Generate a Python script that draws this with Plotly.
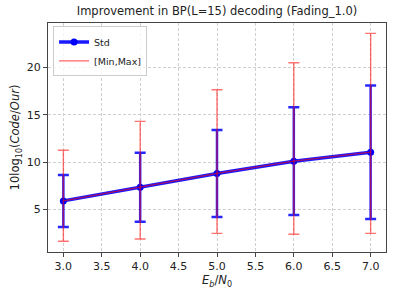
import plotly.graph_objects as go

ebn0 = [3.0, 4.0, 5.0, 6.0, 7.0]
mean_vals = [5.9, 7.35, 8.8, 10.1, 11.05]
std_vals = [2.75, 3.65, 4.6, 5.7, 7.05]
min_vals = [1.63, 1.87, 2.47, 2.37, 2.47]
max_vals = [11.25, 14.3, 17.65, 20.5, 23.6]

err_plus = [mx - m for mx, m in zip(max_vals, mean_vals)]
err_minus = [m - mn for mn, m in zip(min_vals, mean_vals)]

FONT = "DejaVu Sans"
fig = go.Figure()

# Std error bars (blue, thick)
fig.add_trace(go.Scatter(
    x=ebn0, y=mean_vals, mode="lines+markers", name="Std",
    line=dict(color="rgba(0,0,255,0.9)", width=3.5),
    marker=dict(color="blue", size=7),
    error_y=dict(type="data", array=std_vals, color="rgba(0,0,255,0.85)", thickness=2.5, width=5.5),
))
# Min/Max error bars (red, thin) drawn on top
fig.add_trace(go.Scatter(
    x=ebn0, y=mean_vals, mode="lines", name="[Min,Max]",
    line=dict(color="rgba(255,0,0,0.6)", width=1.2),
    error_y=dict(type="data", symmetric=False, array=err_plus, arrayminus=err_minus,
                 color="rgba(255,0,0,0.55)", thickness=1.4, width=5.5),
))

axis_common = dict(
    showline=True, linecolor="#444", linewidth=1, mirror=True,
    ticks="outside", ticklen=4, tickcolor="#444",
    showgrid=True, gridcolor="#cfcfcf", griddash="3px,2px", gridwidth=0.8,
    zeroline=False, automargin=False,
    tickfont=dict(family=FONT, size=11, color="#222"),
)

fig.update_layout(
    width=395, height=296,
    margin=dict(l=48, r=9, t=23, b=44),
    paper_bgcolor="white", plot_bgcolor="white",
    title=dict(text="Improvement in BP(L=15) decoding (Fading_1.0)",
               font=dict(family=FONT, size=11.5, color="#222"),
               x=0.5, xref="paper", xanchor="center", yref="container", y=0.975, yanchor="top"),
    xaxis=dict(range=[2.8, 7.2], tickvals=[3.0, 3.5, 4.0, 4.5, 5.0, 5.5, 6.0, 6.5, 7.0],
               ticktext=["3.0", "3.5", "4.0", "4.5", "5.0", "5.5", "6.0", "6.5", "7.0"],
               title=dict(text="<i>E</i><sub><i>b</i></sub>/<i>N</i><sub>0</sub>",
                          font=dict(family=FONT, size=11.5, color="#222"), standoff=1),
               **axis_common),
    yaxis=dict(range=[0.5, 24.7], tickvals=[5, 10, 15, 20],
               title=dict(text="10log<sub>10</sub>(<i>Code</i>/<i>Our</i>)",
                          font=dict(family=FONT, size=11.5, color="#222"), standoff=4),
               **axis_common),
    legend=dict(x=0.015, y=0.985, xanchor="left", yanchor="top",
                bgcolor="rgba(255,255,255,0.8)", bordercolor="#ccc", borderwidth=1,
                font=dict(family=FONT, size=9.5, color="#222"),
                tracegroupgap=0, itemwidth=30, entrywidthmode="pixels"),
    showlegend=True,
)

fig.write_html("out.html", config={"displayModeBar": False})

# remove default body margin so the figure sits at the page origin
with open("out.html", "r", encoding="utf-8") as f:
    html = f.read()
html = html.replace("<head>", "<head><style>html,body{margin:0;padding:0;overflow:hidden;}</style>", 1)
with open("out.html", "w", encoding="utf-8") as f:
    f.write(html)
